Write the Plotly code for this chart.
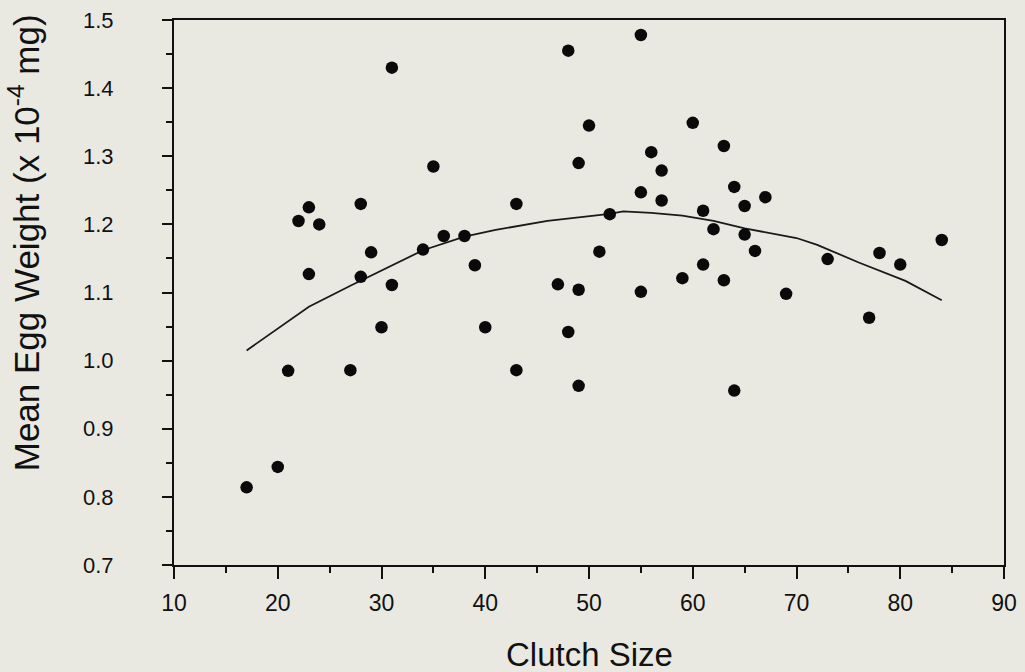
import plotly.graph_objects as go

# Scatter data: clutch size vs mean egg weight
clutch_size = [17, 20, 21, 22, 23, 23, 24, 27, 28, 28, 29, 30, 31, 31, 34, 35, 36, 38, 39, 40,
               43, 43, 47, 48, 48, 49, 49, 49, 50, 51, 52, 55, 55, 55, 56, 57, 57, 59, 60, 61,
               61, 62, 63, 63, 64, 64, 65, 65, 66, 67, 69, 73, 77, 78, 80, 84]
egg_weight = [0.814, 0.844, 0.985, 1.205, 1.225, 1.127, 1.200, 0.986, 1.230, 1.123, 1.159, 1.049,
              1.430, 1.111, 1.163, 1.285, 1.183, 1.183, 1.140, 1.049, 1.230, 0.986, 1.112, 1.455,
              1.042, 1.290, 1.104, 0.963, 1.345, 1.160, 1.215, 1.478, 1.247, 1.101, 1.306, 1.279,
              1.235, 1.121, 1.349, 1.220, 1.141, 1.193, 1.315, 1.118, 1.255, 0.956, 1.227, 1.185,
              1.161, 1.240, 1.098, 1.149, 1.063, 1.158, 1.141, 1.177]

# Fitted curve
curve_x = [17, 21, 23, 27, 30, 34, 38, 41, 46, 50, 52, 53.3, 56, 59, 62, 65, 70, 72, 76, 80.5, 84]
curve_y = [1.015, 1.057, 1.079, 1.110, 1.132, 1.162, 1.182, 1.192, 1.205, 1.212, 1.2155, 1.219,
           1.217, 1.213, 1.205, 1.194, 1.180, 1.170, 1.144, 1.117, 1.0885]

x_ticks = [10, 20, 30, 40, 50, 60, 70, 80, 90]
x_tick_labels = ["10", "20", "30", "40", "50", "60", "70", "80", "90"]
y_ticks = [0.7, 0.8, 0.9, 1.0, 1.1, 1.2, 1.3, 1.4, 1.5]
y_tick_labels = ["0.7", "0.8", "0.9", "1.0", "1.1", "1.2", "1.3", "1.4", "1.5"]

x_title = "Clutch Size"
y_title = "Mean Egg Weight (x 10<sup>-4</sup> mg)"

bg = "#e9e9e1"
ink = "#111111"
font_family = "Liberation Sans, Arial, sans-serif"

fig = go.Figure()
fig.add_trace(go.Scatter(
    x=curve_x, y=curve_y, mode="lines",
    line=dict(color="#1a1a1a", width=1.8),
    hoverinfo="skip", showlegend=False,
))
fig.add_trace(go.Scatter(
    x=clutch_size, y=egg_weight, mode="markers",
    marker=dict(color="#0a0a0a", size=12.5, line=dict(width=0)),
    showlegend=False,
))

fig.update_layout(
    width=1025, height=672,
    margin=dict(l=174, r=20, t=8, b=107),
    paper_bgcolor=bg, plot_bgcolor=bg,
    font=dict(family=font_family, color=ink),
    showlegend=False,
)

fig.update_xaxes(
    range=[10, 90], tickmode="array", tickvals=x_ticks, ticktext=x_tick_labels,
    ticks="outside", ticklen=12, tickwidth=2, tickcolor=ink,
    minor=dict(dtick=5, ticks="outside", ticklen=6, tickwidth=2, tickcolor=ink),
    showline=True, linewidth=2, linecolor=ink, mirror=True,
    showgrid=False, zeroline=False,
    tickfont=dict(size=23, family=font_family, color=ink),
    ticklabelstandoff=4, ticklabeloverflow="allow",
)
fig.update_yaxes(
    range=[0.7, 1.5], tickmode="array", tickvals=y_ticks, ticktext=y_tick_labels,
    ticks="outside", ticklen=10, tickwidth=2, tickcolor=ink,
    minor=dict(dtick=0.05, ticks="outside", ticklen=6, tickwidth=2, tickcolor=ink),
    showline=True, linewidth=2, linecolor=ink, mirror=True,
    showgrid=False, zeroline=False,
    tickfont=dict(size=22, family=font_family, color=ink),
    ticklabelstandoff=44, ticklabeloverflow="allow",
)

fig.add_annotation(
    text=x_title, xref="paper", yref="paper", x=0.5, y=-0.1634,
    xanchor="center", yanchor="middle", showarrow=False,
    font=dict(size=33, family=font_family, color=ink),
)
fig.add_annotation(
    text=y_title, xref="paper", yref="paper",
    x=(24 - 174) / 831, y=(565 - 236) / 557,
    xanchor="center", yanchor="middle", textangle=-90, showarrow=False,
    font=dict(size=35, family=font_family, color=ink),
)

fig.write_html(
    "out.html",
    config={"displayModeBar": False},
    post_script="document.body.style.margin='0';document.body.style.overflow='hidden';",
)
